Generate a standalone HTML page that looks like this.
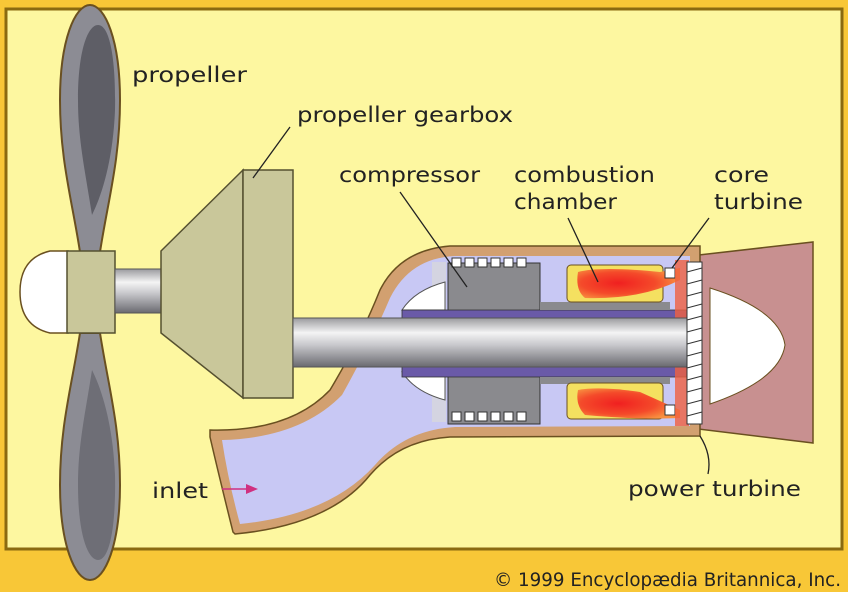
<!DOCTYPE html>
<html><head><meta charset="utf-8"><style>
html,body{margin:0;padding:0;background:#f8c737;}
svg{display:block}
text{font-family:"DejaVu Sans","Liberation Sans",sans-serif;font-size:21px;fill:#222;}
</style></head><body>
<svg width="848" height="592" viewBox="0 0 848 592" xmlns="http://www.w3.org/2000/svg">
<defs>
<linearGradient id="sh" x1="0" y1="0" x2="0" y2="1">
<stop offset="0" stop-color="#9a9a9e"/><stop offset="0.3" stop-color="#f4f4f4"/><stop offset="0.55" stop-color="#c8c8cc"/><stop offset="1" stop-color="#6a6a70"/>
</linearGradient>
<radialGradient id="fl" cx="0.4" cy="0.5" r="0.6">
<stop offset="0" stop-color="#f02020"/><stop offset="0.6" stop-color="#f44a2a"/><stop offset="1" stop-color="#f89040"/>
</radialGradient>
</defs>
<rect x="0" y="0" width="848" height="592" fill="#f8c737"/>
<rect x="6" y="9" width="836" height="540" fill="#fdf7a0" stroke="#8a6a10" stroke-width="3"/>

<!-- propeller blades -->
<path d="M80,252 C72,200 60,160 60,100 C60,40 75,5 90,5 C105,5 120,40 120,100 C120,160 108,200 100,252 Z" fill="#8c8c94" stroke="#6a5020" stroke-width="2"/>
<path d="M92,215 C85,170 78,140 78,100 C78,50 88,25 98,25 C110,25 116,60 115,110 C113,160 102,195 92,215 Z" fill="#5e5e66"/>
<path d="M80,333 C72,385 60,425 60,485 C60,545 75,580 90,580 C105,580 120,545 120,485 C120,425 108,385 100,333 Z" fill="#8c8c94" stroke="#6a5020" stroke-width="2"/>
<path d="M92,370 C85,415 78,445 78,485 C78,535 88,560 98,560 C110,560 116,525 115,475 C113,425 102,390 92,370 Z" fill="#6e6e76"/>
<!-- spinner -->
<path d="M68,251 L50,251 Q20,258 20,292 Q20,326 50,333 L68,333 Z" fill="#fff" stroke="#6a5020" stroke-width="1.5"/>
<rect x="67" y="251" width="48" height="82" fill="#c9c79a" stroke="#555030" stroke-width="1.5"/>
<rect x="115" y="269" width="46" height="44" fill="url(#sh)" stroke="#555" stroke-width="1"/>
<!-- gearbox -->
<polygon points="161,251 243,170 243,398 161,333" fill="#c9c79a" stroke="#555030" stroke-width="1.5"/>
<rect x="243" y="170" width="50" height="228" fill="#c9c79a" stroke="#555030" stroke-width="1.5"/>

<!-- exhaust -->
<polygon points="690,256 813,242 813,443 690,428" fill="#c89090" stroke="#6a5020" stroke-width="1.5"/>
<!-- nacelle + inlet outer -->
<path d="M210,430 Q290,432 330,390 Q360,340 380,290 Q400,250 450,246 L700,246 L700,436 L450,437 Q400,440 370,475 Q330,525 235,534 L233,532 Q220,480 210,437 Z" fill="#d2a070" stroke="#6a5020" stroke-width="1.5"/>
<path d="M222,440 Q300,438 342,395 Q370,345 390,298 Q410,258 455,256 L690,256 L690,426 L455,427 Q405,430 375,465 Q330,515 240,524 Q228,480 222,440 Z" fill="#c8c8f4"/>

<!-- compressor -->
<rect x="448" y="263" width="92" height="48" fill="#8a8a8e" stroke="#333" stroke-width="1"/>
<rect x="448" y="376" width="92" height="48" fill="#8a8a8e" stroke="#333" stroke-width="1"/>
<g fill="#fff" stroke="#333" stroke-width="1">
<rect x="452" y="258" width="9" height="9"/><rect x="465" y="258" width="9" height="9"/><rect x="478" y="258" width="9" height="9"/><rect x="491" y="258" width="9" height="9"/><rect x="504" y="258" width="9" height="9"/><rect x="517" y="258" width="9" height="9"/>
<rect x="452" y="412" width="9" height="9"/><rect x="465" y="412" width="9" height="9"/><rect x="478" y="412" width="9" height="9"/><rect x="491" y="412" width="9" height="9"/><rect x="504" y="412" width="9" height="9"/><rect x="517" y="412" width="9" height="9"/>
</g>
<rect x="432" y="262" width="14" height="160" fill="#d8d8d8" opacity="0.7"/>
<path d="M445,282 Q415,290 402,310 L445,310 Z" fill="#fff" stroke="#555" stroke-width="1"/>
<path d="M445,400 Q415,392 402,372 L445,372 Z" fill="#fff" stroke="#555" stroke-width="1"/>
<rect x="402" y="310" width="290" height="9" fill="#6a5aa8" stroke="#333" stroke-width="0.8"/>
<rect x="402" y="367" width="290" height="10" fill="#6a5aa8" stroke="#333" stroke-width="0.8"/>
<rect x="540" y="302" width="130" height="8" fill="#8a8a8e"/>
<rect x="540" y="377" width="130" height="7" fill="#8a8a8e"/>
<!-- combustion chambers -->
<rect x="567" y="265" width="96" height="37" rx="4" fill="#f4e060" stroke="#6a5020" stroke-width="1"/>
<path d="M578,272 Q600,266 660,272 L680,268 L680,280 Q640,300 585,298 Q575,290 578,272 Z" fill="url(#fl)"/>
<rect x="567" y="383" width="96" height="36" rx="4" fill="#f4e060" stroke="#6a5020" stroke-width="1"/>
<path d="M578,390 Q600,386 640,392 L680,410 L680,418 Q640,420 585,415 Q575,405 578,390 Z" fill="url(#fl)"/>
<rect x="665" y="268" width="10" height="10" fill="#fff" stroke="#333"/>
<rect x="665" y="405" width="10" height="10" fill="#fff" stroke="#333"/>
<rect x="675" y="260" width="14" height="166" fill="#f06040" opacity="0.8"/>
<!-- shaft -->
<rect x="293" y="318" width="400" height="49" fill="url(#sh)" stroke="#555" stroke-width="1"/>
<!-- turbine blades -->
<rect x="687" y="262" width="15" height="162" fill="#fff" stroke="#333" stroke-width="1"/>
<g stroke="#333" stroke-width="1">
<line x1="687" y1="272" x2="702" y2="268"/><line x1="687" y1="284" x2="702" y2="280"/><line x1="687" y1="296" x2="702" y2="292"/><line x1="687" y1="308" x2="702" y2="304"/><line x1="687" y1="320" x2="702" y2="316"/><line x1="687" y1="332" x2="702" y2="328"/><line x1="687" y1="344" x2="702" y2="340"/><line x1="687" y1="356" x2="702" y2="352"/><line x1="687" y1="368" x2="702" y2="364"/><line x1="687" y1="380" x2="702" y2="376"/><line x1="687" y1="392" x2="702" y2="388"/><line x1="687" y1="404" x2="702" y2="400"/><line x1="687" y1="416" x2="702" y2="412"/>
</g>
<path d="M710,288 Q780,310 785,345 Q780,380 710,404 Z" fill="#fff" stroke="#6a5020" stroke-width="1"/>

<!-- leader lines -->
<g stroke="#222" stroke-width="1.3" fill="none">
<line x1="290" y1="127" x2="253" y2="178"/>
<line x1="400" y1="192" x2="467" y2="287"/>
<line x1="568" y1="218" x2="598" y2="282"/>
<line x1="709" y1="218" x2="672" y2="268"/>
<path d="M700,436 Q712,455 708,474"/>
</g>
<line x1="222" y1="489" x2="248" y2="489" stroke="#d03080" stroke-width="1.5"/>
<polygon points="258,489 246,484 246,494" fill="#d03080"/>

<!-- labels -->
<g>
<text x="132" y="82" textLength="115" lengthAdjust="spacingAndGlyphs">propeller</text>
<text x="297" y="122" textLength="216" lengthAdjust="spacingAndGlyphs">propeller gearbox</text>
<text x="339" y="182" textLength="141" lengthAdjust="spacingAndGlyphs">compressor</text>
<text x="514" y="182" textLength="141" lengthAdjust="spacingAndGlyphs">combustion</text>
<text x="514" y="209" textLength="103" lengthAdjust="spacingAndGlyphs">chamber</text>
<text x="714" y="182" textLength="55" lengthAdjust="spacingAndGlyphs">core</text>
<text x="714" y="209" textLength="89" lengthAdjust="spacingAndGlyphs">turbine</text>
<text x="152" y="498" textLength="56" lengthAdjust="spacingAndGlyphs">inlet</text>
<text x="628" y="496" textLength="173" lengthAdjust="spacingAndGlyphs">power turbine</text>
<text x="494" y="586" textLength="347" lengthAdjust="spacingAndGlyphs" style="font-size:19px">© 1999 Encyclopædia Britannica, Inc.</text>
</g>
</svg>
</body></html>
